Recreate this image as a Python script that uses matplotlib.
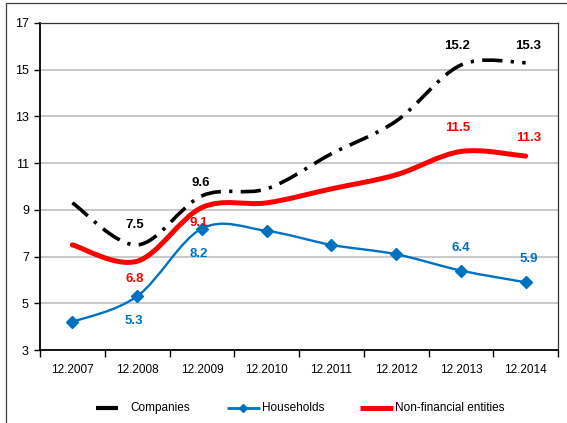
import matplotlib
matplotlib.use("Agg")
import matplotlib.pyplot as plt
import numpy as np
from matplotlib.path import Path
from matplotlib.patches import PathPatch, Rectangle
from matplotlib.lines import Line2D

plt.rcParams["font.family"] = ["Liberation Sans", "DejaVu Sans"]

# Data
periods = ["12.2007", "12.2008", "12.2009", "12.2010",
           "12.2011", "12.2012", "12.2013", "12.2014"]
companies = [9.3, 7.5, 9.6, 9.9, 11.4, 12.8, 15.2, 15.3]
households = [4.2, 5.3, 8.2, 8.1, 7.5, 7.1, 6.4, 5.9]
non_financial = [7.5, 6.8, 9.1, 9.3, 9.9, 10.5, 11.5, 11.3]

# which points carry a data label: (index, dx, dy) in points
companies_labels = [(1, -2, 14), (2, -1, 9), (6, -3, 14), (7, 2, 12)]
households_labels = [(1, -2, -18), (2, -2, -18), (6, 0, 16), (7, 2, 17)]
non_fin_labels = [(1, -2, -13), (2, -2, -11), (6, -2, 17), (7, 2, 13)]

BLUE = "#0070C0"
RED = "#FF0000"


def smooth_path(xs, ys):
    # Excel-style smoothed line: Catmull-Rom control points for cubic Beziers
    pts = np.column_stack([xs, ys]).astype(float)
    ext = np.vstack([pts[0], pts, pts[-1]])
    verts = [pts[0]]
    codes = [Path.MOVETO]
    for i in range(len(pts) - 1):
        p0, p1, p2, p3 = ext[i], ext[i + 1], ext[i + 2], ext[i + 3]
        c1 = p1 + (p2 - p0) / 6.0
        c2 = p2 - (p3 - p1) / 6.0
        verts += [c1, c2, p2]
        codes += [Path.CURVE4] * 3
    return Path(verts, codes)


fig = plt.figure(figsize=(5.67, 4.23), dpi=100)
ax = fig.add_axes([40 / 567, 1 - 350 / 423, 518 / 567, 327 / 423])

x = np.arange(len(periods))

# dash pattern is scaled by the line width
dashdot = (0, (5.6, 2.3, 0.9, 2.3))
comp_patch = PathPatch(smooth_path(x, companies), fill=False, edgecolor="black",
                       lw=2.6, capstyle="butt", zorder=3)
comp_patch.set_linestyle(dashdot)
ax.add_patch(comp_patch)
ax.add_patch(PathPatch(smooth_path(x, households), fill=False, edgecolor=BLUE,
                       lw=1.7, zorder=3))
ax.plot(x, households, linestyle="none", marker="D", ms=6, color=BLUE, zorder=4)
ax.add_patch(PathPatch(smooth_path(x, non_financial), fill=False, edgecolor=RED,
                       lw=3.6, zorder=3, capstyle="round"))

for series, labels, color in [(companies, companies_labels, "black"),
                              (households, households_labels, BLUE),
                              (non_financial, non_fin_labels, RED)]:
    for i, dx, dy in labels:
        ax.annotate(f"{series[i]:.1f}", (x[i], series[i]), xytext=(dx, dy),
                    textcoords="offset points", ha="center", va="center",
                    fontsize=9.5, fontweight="bold", color=color, zorder=5)

ax.set_xlim(-0.5, len(periods) - 0.5)
ax.set_ylim(3, 17)
ax.set_yticks(range(3, 18, 2))
ax.set_xticks(x)
ax.set_xticklabels(periods)
ax.set_xticks(np.arange(-0.5, len(periods), 1.0), minor=True)
ax.tick_params(axis="x", which="major", length=0, pad=10, labelsize=8.5)
ax.tick_params(axis="x", which="minor", length=5, direction="out", width=1)
ax.tick_params(axis="y", length=4, direction="out", width=1, pad=4, labelsize=9)

for y in range(5, 17, 2):
    ax.axhline(y, color="#C0C0C0", lw=1.2, zorder=1)

ax.spines["left"].set_linewidth(1.3)
ax.spines["bottom"].set_linewidth(1.3)
ax.spines["top"].set_color("#333333")
ax.spines["right"].set_color("#333333")
ax.spines["top"].set_linewidth(0.9)
ax.spines["right"].set_linewidth(0.9)

# legend drawn by hand to match the uneven Excel spacing
leg_y = 1 - 408 / 423
legend_items = [
    ("Companies", 96, 118, 130, dict(color="black", lw=3)),
    ("Households", 227, 260, 262, dict(color=BLUE, lw=2)),
    ("Non-financial entities", 360, 393, 395, dict(color=RED, lw=3.6)),
]
for label, x0, x1, tx, style in legend_items:
    fig.add_artist(Line2D([x0 / 567, x1 / 567], [leg_y, leg_y],
                          transform=fig.transFigure, solid_capstyle="butt", **style))
    fig.text(tx / 567, leg_y, label, ha="left", va="center", fontsize=8.5)
fig.add_artist(Line2D([243 / 567], [leg_y], transform=fig.transFigure,
                      marker="D", ms=4.5, color=BLUE, linestyle="none"))

# outer chart frame (only top and left edges are visible in the reference)
fig.add_artist(Rectangle((6 / 567, -0.1), 1.1, 1.1 - 3 / 423,
                         transform=fig.transFigure, fill=False,
                         edgecolor="#404040", lw=0.9))

fig.savefig("out.png", dpi=100)
